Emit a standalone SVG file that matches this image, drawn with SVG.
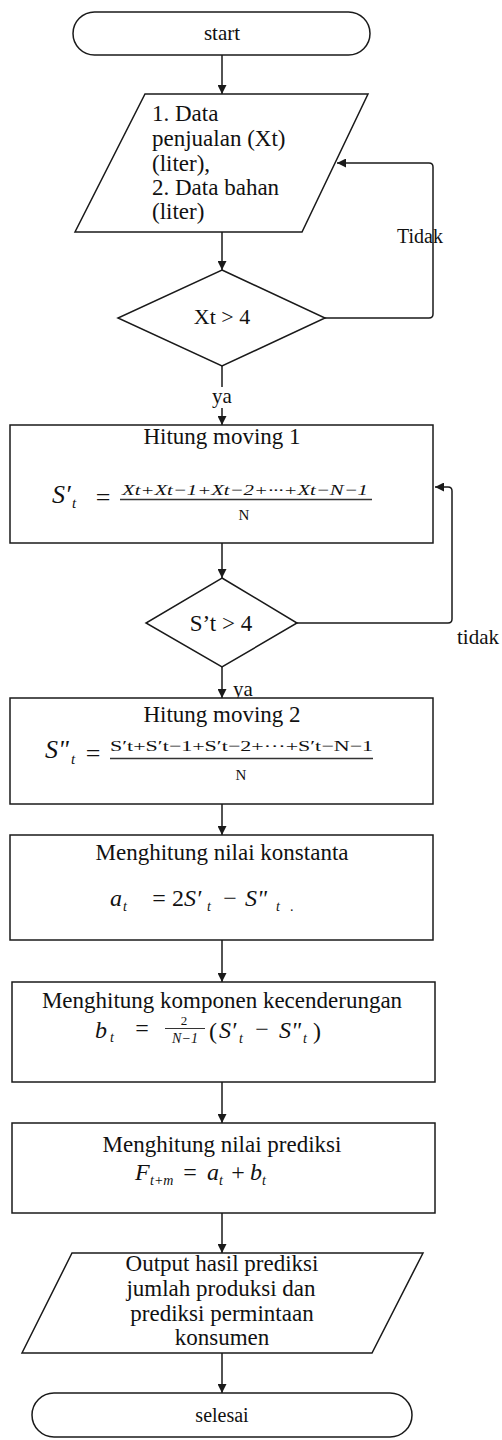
<svg xmlns="http://www.w3.org/2000/svg" width="502" height="1440" viewBox="0 0 502 1440" font-family="'Liberation Serif', 'Times New Roman', serif">
<defs>
<marker id="arr" viewBox="0 0 10 10" refX="10" refY="5" markerWidth="9" markerHeight="9" markerUnits="userSpaceOnUse" orient="auto">
<path d="M0,0 L10,5 L0,10 z" fill="#1a1a1a"/>
</marker>
<style>
.shape{fill:#ffffff;stroke:#1a1a1a;stroke-width:1.5}
.conn{fill:none;stroke:#1a1a1a;stroke-width:1.5;stroke-linejoin:round}
text{font-family:'Liberation Serif','Times New Roman',serif;fill:#111}
.t{font-size:23px}
.c{text-anchor:middle}
.m{font-style:italic}
</style>
</defs>
<rect width="502" height="1440" fill="#ffffff"/>

<g id="connectors">
<path class="conn" d="M222,55 V94" marker-end="url(#arr)"/>
<path class="conn" d="M222,232 V270" marker-end="url(#arr)"/>
<path class="conn" d="M325,318 H429 Q433,318 433,314 V167 Q433,163 429,163 H337" marker-end="url(#arr)"/>
<path class="conn" d="M222,366 V387"/>
<path class="conn" d="M222,408 V425" marker-end="url(#arr)"/>
<path class="conn" d="M222,543 V578" marker-end="url(#arr)"/>
<path class="conn" d="M297,623 H448 Q452,623 452,619 V491 Q452,487 448,487 H435" marker-end="url(#arr)"/>
<path class="conn" d="M222,667 V698" marker-end="url(#arr)"/>
<path class="conn" d="M222,804 V835" marker-end="url(#arr)"/>
<path class="conn" d="M222,940 V982" marker-end="url(#arr)"/>
<path class="conn" d="M222,1082 V1123" marker-end="url(#arr)"/>
<path class="conn" d="M222,1213 V1253" marker-end="url(#arr)"/>
<path class="conn" d="M222,1353 V1393" marker-end="url(#arr)"/>
<text x="420" y="243" font-size="20" text-anchor="middle">Tidak</text>
<text x="222" y="403" font-size="21" text-anchor="middle">ya</text>
<text x="457" y="644" font-size="21">tidak</text>
<text x="243" y="696" font-size="21" text-anchor="middle">ya</text>
</g>

<g id="start">
<rect class="shape" x="73" y="12" width="297" height="43" rx="21.5"/>
<text x="222" y="40" font-size="21" text-anchor="middle">start</text>
</g>

<g id="input-data">
<path class="shape" d="M145,94 H368 L302,232 H75 Z"/>
<text class="t" x="152" y="121">1. Data</text>
<text class="t" x="152" y="146">penjualan (Xt)</text>
<text class="t" x="152" y="171">(liter),</text>
<text class="t" x="152" y="195">2. Data bahan</text>
<text class="t" x="152" y="219">(liter)</text>
</g>

<g id="decision-xt">
<path class="shape" d="M222,270 L325,318 L222,366 L118,318 Z"/>
<text x="222" y="324" font-size="22" text-anchor="middle">Xt &gt; 4</text>
</g>

<g id="moving1">
<rect class="shape" x="10" y="425" width="423" height="118"/>
<text class="t c" x="222" y="444">Hitung moving 1</text>
<text class="m" x="52" y="503" font-size="26">S′</text>
<text class="m" x="72" y="508" font-size="15">t</text>
<text x="103" y="506" font-size="26" text-anchor="middle">=</text>
<text class="m" x="122" y="495" font-size="15" textLength="246" lengthAdjust="spacingAndGlyphs">Xt+Xt−1+Xt−2+···+Xt−N−1</text>
<line x1="120" y1="499.5" x2="372" y2="499.5" stroke="#333" stroke-width="1.3"/>
<text x="244" y="520" font-size="15" text-anchor="middle">N</text>
</g>

<g id="decision-st">
<path class="shape" d="M222,578 L297,623 L222,667 L146,623 Z"/>
<text class="t c" x="221" y="631">S’t &gt; 4</text>
</g>

<g id="moving2">
<rect class="shape" x="10" y="698" width="423" height="106"/>
<text class="t c" x="222" y="722">Hitung moving 2</text>
<text class="m" x="45" y="758" font-size="26">S"</text>
<text class="m" x="71" y="764" font-size="15">t</text>
<text x="93" y="762" font-size="26" text-anchor="middle">=</text>
<text x="110" y="751" font-size="15" textLength="263" lengthAdjust="spacingAndGlyphs">S′t+S′t−1+S′t−2+···+S′t−N−1</text>
<line x1="110" y1="758.5" x2="373" y2="758.5" stroke="#333" stroke-width="1.3"/>
<text x="241" y="780" font-size="15" text-anchor="middle">N</text>
</g>

<g id="konstanta">
<rect class="shape" x="10" y="835" width="423" height="105"/>
<text class="t c" x="222" y="860">Menghitung nilai konstanta</text>
<text class="m" x="110" y="906" font-size="24">a</text>
<text class="m" x="123" y="911" font-size="14">t</text>
<text x="159" y="906" font-size="24" text-anchor="middle">=</text>
<text x="172" y="906" font-size="24">2<tspan font-style="italic">S′</tspan></text>
<text class="m" x="207" y="911" font-size="14">t</text>
<text x="230" y="906" font-size="24" text-anchor="middle">−</text>
<text class="m" x="245" y="906" font-size="24">S"</text>
<text class="m" x="276" y="911" font-size="14">t</text>
<text x="290" y="911" font-size="14">.</text>
</g>

<g id="kecenderungan">
<rect class="shape" x="12" y="982" width="423" height="100"/>
<text class="t c" x="222" y="1008">Menghitung komponen kecenderungan</text>
<text class="m" x="95" y="1038" font-size="24">b</text>
<text class="m" x="110" y="1042" font-size="14">t</text>
<text x="142" y="1036" font-size="24" text-anchor="middle">=</text>
<text x="184" y="1025" font-size="13" text-anchor="middle">2</text>
<line x1="165" y1="1028.5" x2="205" y2="1028.5" stroke="#333" stroke-width="1.2"/>
<text class="m" x="185" y="1043" font-size="14" text-anchor="middle">N−1</text>
<text x="209" y="1039" font-size="24">(</text>
<text class="m" x="219" y="1038" font-size="24">S′</text>
<text class="m" x="239" y="1043" font-size="14">t</text>
<text x="262" y="1037" font-size="24" text-anchor="middle">−</text>
<text class="m" x="279" y="1038" font-size="24">S"</text>
<text class="m" x="303" y="1043" font-size="14">t</text>
<text x="313" y="1039" font-size="24">)</text>
</g>

<g id="prediksi">
<rect class="shape" x="12" y="1123" width="423" height="90"/>
<text class="t c" x="222" y="1152">Menghitung nilai prediksi</text>
<text class="m" x="135" y="1180" font-size="24">F</text>
<text class="m" x="150" y="1185" font-size="14">t+m</text>
<text x="190" y="1180" font-size="24" text-anchor="middle">=</text>
<text class="m" x="207" y="1180" font-size="24">a</text>
<text class="m" x="219" y="1185" font-size="14">t</text>
<text x="238" y="1180" font-size="24" text-anchor="middle">+</text>
<text class="m" x="250" y="1180" font-size="24">b</text>
<text class="m" x="262" y="1185" font-size="14">t</text>
</g>

<g id="output">
<path class="shape" d="M72,1253 H423 L372,1353 H22 Z"/>
<text class="t c" x="222" y="1271">Output hasil prediksi</text>
<text class="t c" x="221" y="1296">jumlah produksi dan</text>
<text class="t c" x="222" y="1321">prediksi permintaan</text>
<text class="t c" x="222" y="1345">konsumen</text>
</g>

<g id="selesai">
<rect class="shape" x="32" y="1393" width="380" height="44" rx="22"/>
<text x="222" y="1422" font-size="20" text-anchor="middle">selesai</text>
</g>
</svg>
